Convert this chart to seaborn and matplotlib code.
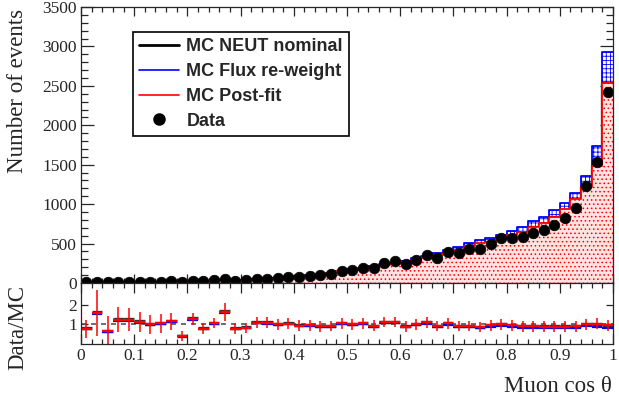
import numpy as np
import pandas as pd
import matplotlib
matplotlib.use("Agg")
import matplotlib.pyplot as plt
import seaborn as sns
from matplotlib.lines import Line2D
from matplotlib.ticker import MultipleLocator, FuncFormatter

# ---------------- data ----------------
n_bins = 50
x_range = (0.0, 1.0)
bin_edges = np.linspace(x_range[0], x_range[1], n_bins + 1)
bin_centers = (bin_edges[:-1] + bin_edges[1:]) / 2

data_counts = [7, 16, 7, 15, 16, 17, 16, 19, 23, 9, 31, 21, 32, 54, 29, 34,
               50, 56, 59, 71, 74, 88, 96, 117, 158, 170, 195, 189, 252, 276,
               238, 296, 352, 322, 399, 380, 428, 435, 499, 565, 570, 585,
               640, 670, 740, 830, 950, 1235, 1535, 2425]

mc_postfit = [9, 10, 11, 12, 13, 15, 16, 18, 20, 22, 24, 27, 30, 33, 37, 41,
              46, 52, 59, 68, 80, 92, 106, 128, 150, 170, 186, 205, 225, 246,
              270, 293, 320, 350, 380, 415, 465, 505, 520, 560, 605, 645,
              715, 760, 840, 935, 1060, 1220, 1490, 2540]

mc_flux = [9.4, 10.4, 11.4, 12.5, 13.5, 15.6, 16.6, 18.7, 20.8, 22.9, 25.0,
           28.1, 31.2, 34.3, 38.5, 42.6, 47.8, 54.1, 61.4, 70.7, 83.2, 95.7,
           110.2, 133.1, 156, 176.8, 195.3, 215.3, 236.3, 258.3, 283.5, 313.5,
           342.4, 374.5, 414, 452, 507, 550, 567, 610, 659, 711, 780, 832,
           930, 1010, 1142, 1353, 1734, 2931]

mc_nominal = [8.8, 9.8, 10.8, 11.8, 12.7, 14.7, 15.7, 17.6, 19.6, 21.6, 23.5,
              26.5, 29.4, 32.3, 36.3, 40.2, 45.1, 51.0, 57.8, 66.6, 78.4, 90.2,
              103.9, 125.4, 147, 166.6, 182.3, 200.9, 220.5, 241.1, 264.6, 290,
              317, 346.5, 376, 411, 460, 500, 515, 554, 599, 639, 708, 752,
              832, 926, 1049, 1220, 1490, 2540]

ratio_err = [0.47, 1.2, 0.8, 0.67, 0.6, 0.52, 0.5, 0.48, 0.43, 0.27, 0.3, 0.3,
             0.28, 0.45, 0.28, 0.26] + [0.28] * 34

legend_labels = ["MC NEUT nominal", "MC Flux re-weight", "MC Post-fit", "Data"]

df = pd.DataFrame({"cos": bin_centers, "data": data_counts,
                   "nominal": mc_nominal, "flux": mc_flux, "postfit": mc_postfit})

# ---------------- style ----------------
sns.set_theme(style="ticks")
plt.rcParams['font.family'] = ['Liberation Serif', 'DejaVu Serif']
plt.rcParams['hatch.linewidth'] = 0.6
plt.rcParams['axes.linewidth'] = 0.9
for k in ['xtick.major.width', 'ytick.major.width', 'xtick.minor.width', 'ytick.minor.width']:
    plt.rcParams[k] = 0.9

W, H = 619, 396
fig = plt.figure(figsize=(W / 100, H / 100), dpi=100)
ax = fig.add_axes([81 / W, 1 - 283 / H, 532 / W, 276 / H])
axr = fig.add_axes([81 / W, 1 - 343.6 / H, 532 / W, 60.6 / H])

hist_kw = dict(data=df, x="cos", bins=n_bins, binrange=x_range, element="step", ax=ax)

# ---------------- top panel ----------------
sns.histplot(weights="flux", fill=True, facecolor="white", edgecolor="#0000ff",
             hatch="++++", linewidth=0, zorder=1, **hist_kw)
sns.histplot(weights="flux", fill=False, color="#0000ff", linewidth=1.3,
             zorder=2, **hist_kw)
sns.histplot(weights="nominal", fill=False, color="black", linewidth=1.6,
             zorder=2.5, **hist_kw)
sns.histplot(weights="postfit", fill=True, facecolor="#ffe3e3", edgecolor="#ff0000",
             hatch="....", linewidth=0, zorder=3, **hist_kw)
sns.histplot(weights="postfit", fill=False, color="#ff0000", linewidth=1.3,
             zorder=4, **hist_kw)
sns.scatterplot(data=df, x="cos", y="data", color="black", s=58,
                edgecolor="black", linewidth=0.5, zorder=6, ax=ax, legend=False)

ax.set_xlim(0, 1)
ax.set_ylim(0, 3500)
ax.set_xlabel("")
ax.set_ylabel("")
ax.xaxis.set_major_locator(MultipleLocator(0.1))
ax.xaxis.set_minor_locator(MultipleLocator(0.02))
ax.yaxis.set_major_locator(MultipleLocator(500))
ax.yaxis.set_minor_locator(MultipleLocator(100))
ax.tick_params(which="both", direction="in", top=True, right=True,
               labelbottom=False, labelsize=12.5, pad=3)
ax.tick_params(axis="x", which="major", length=6.5)
ax.tick_params(axis="x", which="minor", length=3.5)
ax.tick_params(axis="y", which="major", length=9.5)
ax.tick_params(axis="y", which="minor", length=5)
for sp in ax.spines.values():
    sp.set_zorder(10)

handles = [Line2D([], [], color="black", lw=2),
           Line2D([], [], color="#0000ff", lw=1.2),
           Line2D([], [], color="#ff0000", lw=1.2),
           Line2D([], [], marker="o", ls="none", color="black", markersize=8)]
leg = ax.legend(handles, legend_labels, loc="upper left",
                bbox_to_anchor=((133 - 81) / 532, (283 - 32) / 276),
                borderaxespad=0, frameon=True, fancybox=False,
                edgecolor="black", framealpha=1,
                prop=dict(family="Liberation Sans", weight="bold", size=13),
                handlelength=2.2, handletextpad=0.4, labelspacing=0.43,
                borderpad=0.35)
leg.get_frame().set_linewidth(1.2)
leg.set_zorder(20)

# ---------------- ratio panel ----------------
data_arr = np.array(data_counts, dtype=float)
for mc, col, hlw, vlw, z in [(mc_nominal, "#333333", 2.4, 0, 2),
                             (mc_flux, "#0000ff", 1.6, 0, 3),
                             (mc_postfit, "#ff0000", 1.6, 1.1, 4)]:
    r = data_arr / np.array(mc, dtype=float)
    axr.errorbar(bin_centers, r, xerr=0.01, fmt="none", ecolor=col,
                 elinewidth=hlw, zorder=z)
    if vlw > 0:
        axr.errorbar(bin_centers, r, yerr=ratio_err, fmt="none", ecolor=col,
                     elinewidth=vlw, zorder=z)
axr.axhline(1, color="#555555", ls=(0, (3, 3)), lw=1.2, zorder=1)

axr.set_xlim(0, 1)
axr.set_ylim(0, 3.15)
axr.xaxis.set_major_locator(MultipleLocator(0.1))
axr.xaxis.set_minor_locator(MultipleLocator(0.02))
axr.set_yticks([1, 2])
axr.xaxis.set_major_formatter(FuncFormatter(lambda v, p: "{:g}".format(round(v, 2))))
axr.tick_params(which="both", direction="in", top=True, right=True,
                labelsize=12.5, pad=3)
axr.tick_params(axis="x", which="major", length=7)
axr.tick_params(axis="x", which="minor", length=3.5)
axr.tick_params(axis="y", which="major", length=5)
for sp in axr.spines.values():
    sp.set_zorder(10)

# ---------------- axis titles ----------------
fig.text(18 / W, 1 - 9 / H, "Number of events", rotation=90, ha="center",
         va="top", fontsize=16.5)
fig.text(18 / W, 1 - 328 / H, "Data/MC", rotation=90, ha="center",
         va="center", fontsize=16.5)
fig.text(612 / W, 1 - 386 / H, "Muon cos θ", ha="right", va="center",
         fontsize=16.5)

fig.savefig("out.png", dpi=100)
